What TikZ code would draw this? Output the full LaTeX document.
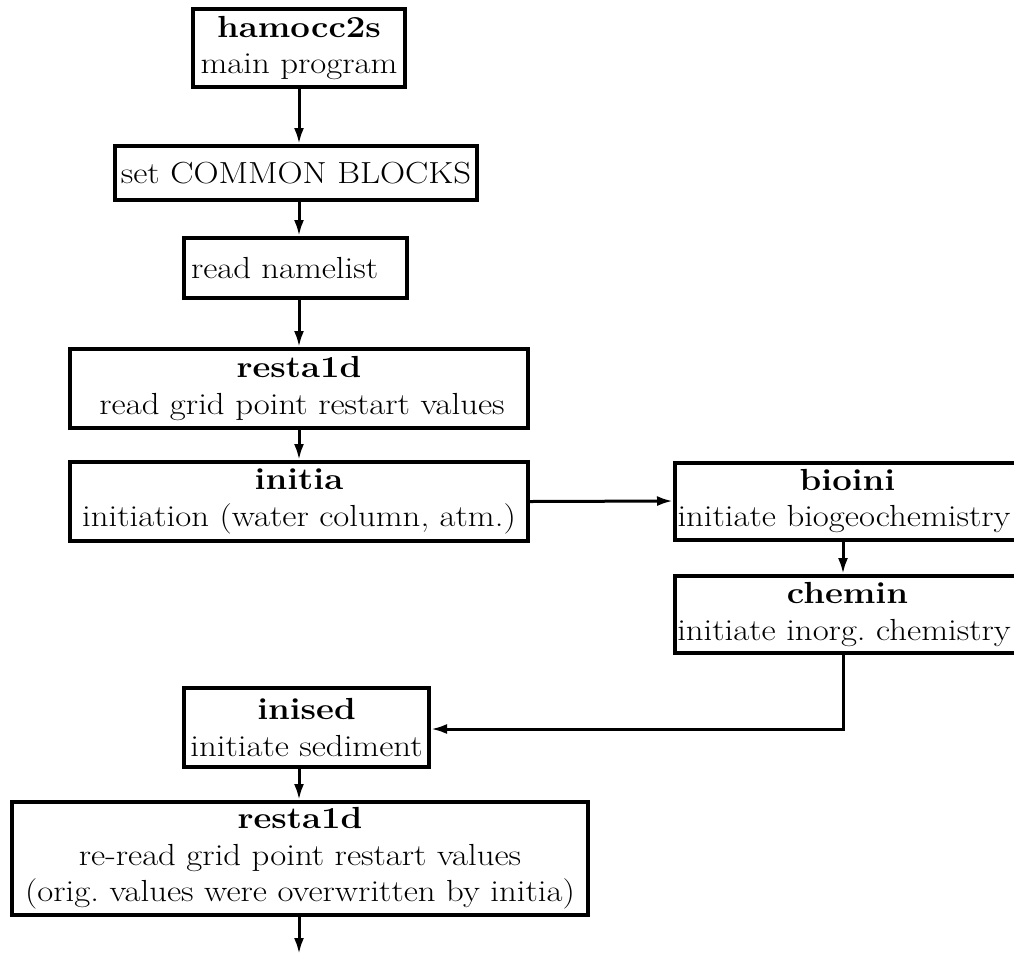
\documentclass[tikz,border=0pt]{standalone}
\usepackage{fontspec}
\setmainfont{Latin Modern Roman}[FakeStretch=1.14]
\usetikzlibrary{arrows.meta}

\begin{document}
\begin{tikzpicture}[x=1pt,y=-1pt,
    every node/.style={font=\fontsize{30.5}{36.5}\selectfont},
    proc/.style={draw,line width=4pt,inner sep=0pt,align=center},
    flow/.style={line width=3pt,-{Latex[length=16pt,width=10pt]}}]
  \useasboundingbox (0,0) rectangle (1014,954);
  \clip (0,0) rectangle (1014,954);

  % main chain
  \node[proc,minimum width=212pt,minimum height=78pt] (ham) at (299,48)
    {\textbf{hamocc2s}\\main program};
  \node[proc,minimum width=362pt,minimum height=54pt] (common) at (296,173)
    {set COMMON BLOCKS};
  \node[proc,inner xsep=7pt,text width=209pt,align=left,minimum height=60pt] (namelist) at (295.5,268)
    {read namelist};
  \node[proc,minimum width=458pt,minimum height=79pt] (resta) at (299,388.5)
    {\textbf{resta1d}\\\hspace*{6pt}read grid point restart values};
  \node[proc,minimum width=458pt,minimum height=79pt] (initia) at (299,501.5)
    {\textbf{initia}\\initiation (water column, atm.)};

  % side branch
  \node[proc,minimum width=345pt,minimum height=77pt] (bioini) at (847.5,501)
    {\textbf{bioini}\\initiate biogeochemistry\hspace*{7pt}};
  \node[proc,minimum width=345pt,minimum height=77pt] (chemin) at (847.5,614.5)
    {\textbf{chemin}\\initiate inorg.\ chemistry\hspace*{7pt}};

  % sediment and re-read
  \node[proc,minimum width=245pt,minimum height=79pt] (inised) at (306.5,727.5)
    {\textbf{inised}\\initiate sediment};
  \node[proc,minimum width=576pt,minimum height=113pt] (resta2) at (300,858.5)
    {\textbf{resta1d}\\re-read grid point restart values\hspace*{18pt}\\(orig.\ values were overwritten by initia)};

  \coordinate (out) at (299,954);
  \coordinate (bend) at (843,729);

  % connectors
  \draw[flow] (ham.south) -- (ham.south |- common.north);
  \draw[flow] (ham.south |- common.south) -- (ham.south |- namelist.north);
  \draw[flow] (ham.south |- namelist.south) -- (ham.south |- resta.north);
  \draw[flow] (ham.south |- resta.south) -- (ham.south |- initia.north);
  \draw[flow] (initia.east) -- (bioini.west);
  \draw[flow] (bend |- bioini.south) -- (bend |- chemin.north);
  \draw[flow] (bend |- chemin.south) -- (bend) -- (inised.east |- bend);
  \draw[flow] (ham.south |- inised.south) -- (ham.south |- resta2.north);
  \draw[flow] (ham.south |- resta2.south) -- (out);
\end{tikzpicture}
\end{document}
